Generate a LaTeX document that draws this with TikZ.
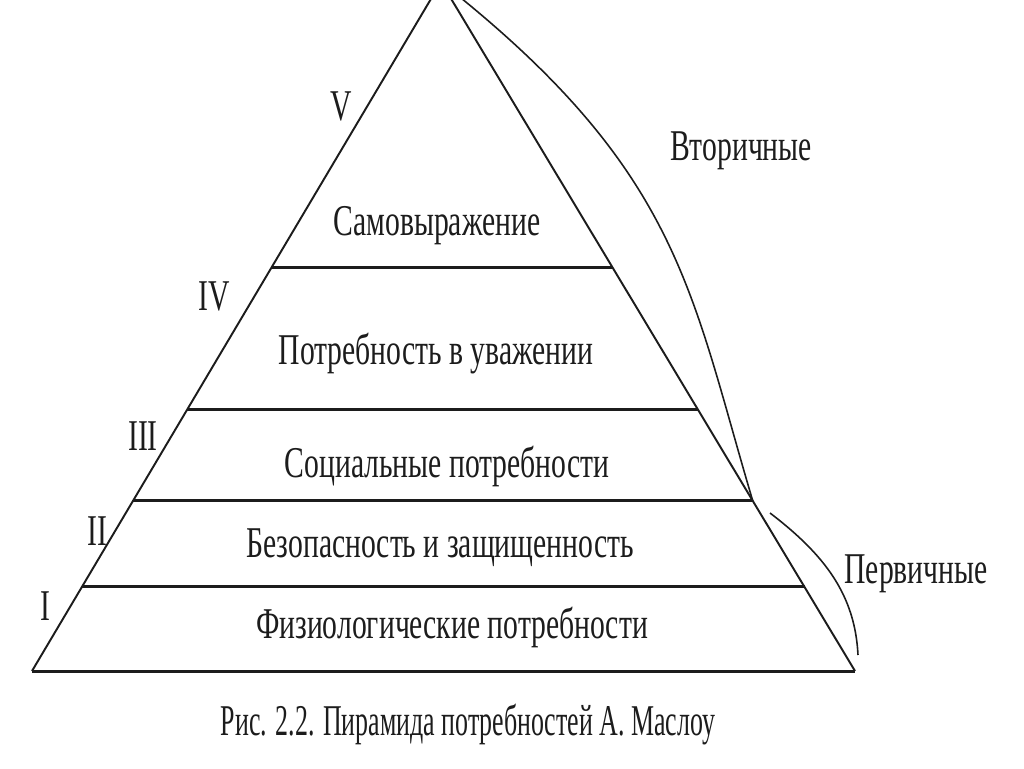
\documentclass[tikz,border=0pt]{standalone}
\usepackage{fontspec}
\setmainfont{Liberation Serif}[FakeStretch=0.675]
\newfontfamily\figcapfont{Liberation Serif}[FakeStretch=0.59]
\usetikzlibrary{calc,positioning}
\definecolor{inkgray}{HTML}{1C1C1C}

\begin{document}
\begin{tikzpicture}[x=0.02cm, y=-0.02cm,
      every node/.style={font=\fontsize{25}{28}\selectfont, text=inkgray, anchor=base, inner sep=0pt},
      side/.style={draw=inkgray, line width=1.1pt},
      tier/.style={draw=inkgray, line width=1.7pt},
      bracket/.style={draw=inkgray, line width=0.9pt}
    ]
      \useasboundingbox (0,0) rectangle (1024,768);
      \clip (0,0) rectangle (1024,768);
      \coordinate (apex) at (441,-18);
      \coordinate (bl) at (32,671);
      \coordinate (br) at (855,671);
      \coordinate (l1) at ($(apex)!0.414!(bl)$);
      \coordinate (r1) at ($(apex)!0.414!(br)$);
      \coordinate (l2) at ($(apex)!0.620!(bl)$);
      \coordinate (r2) at ($(apex)!0.620!(br)$);
      \coordinate (l3) at ($(apex)!0.753!(bl)$);
      \coordinate (r3) at ($(apex)!0.753!(br)$);
      \coordinate (l4) at ($(apex)!0.878!(bl)$);
      \coordinate (r4) at ($(apex)!0.878!(br)$);
      % pyramid
      \draw[side] (bl) -- (apex) -- (br);
      \draw[tier] (bl) -- (br);
      \draw[tier] (l1) -- (r1);
      \draw[tier] (l2) -- (r2);
      \draw[tier] (l3) -- (r3);
      \draw[tier] (l4) -- (r4);
      % levels
      \node (self) at (437,235) {Самовыражение};
      \node (esteem) at (436,364) {Потребность в уважении};
      \node (social) at (447,477) {Социальные потребности};
      \node (safety) at (440,557) {Безопасность и защищенность};
      \node (physio) at (452,638) {Физиологические потребности};
      \node (n5) at (341,120) {V};
      \node (n4) at (214,310) {IV};
      \node (n3) at (143,450) {III};
      \node (n2) at (97,545) {II};
      \node (n1) at (45,620) {I};
      % groups
      \coordinate (p1) at (770,513);
      \coordinate (p2) at (858,655);
      \draw[bracket] (apex) .. controls (680,170) and (690,290) .. (r3);
      \draw[bracket] (p1) .. controls (825,555) and (855,595) .. (p2);
      \node (upper) at (741,160) {Вторичные};
      \node (lower) at (916,583) {Первичные};
      \node[font=\figcapfont\fontsize{25}{28}\selectfont] (caption) at (468,735) {Рис. 2.2. Пирамида потребностей А. Маслоу};
    \end{tikzpicture}
\end{document}
